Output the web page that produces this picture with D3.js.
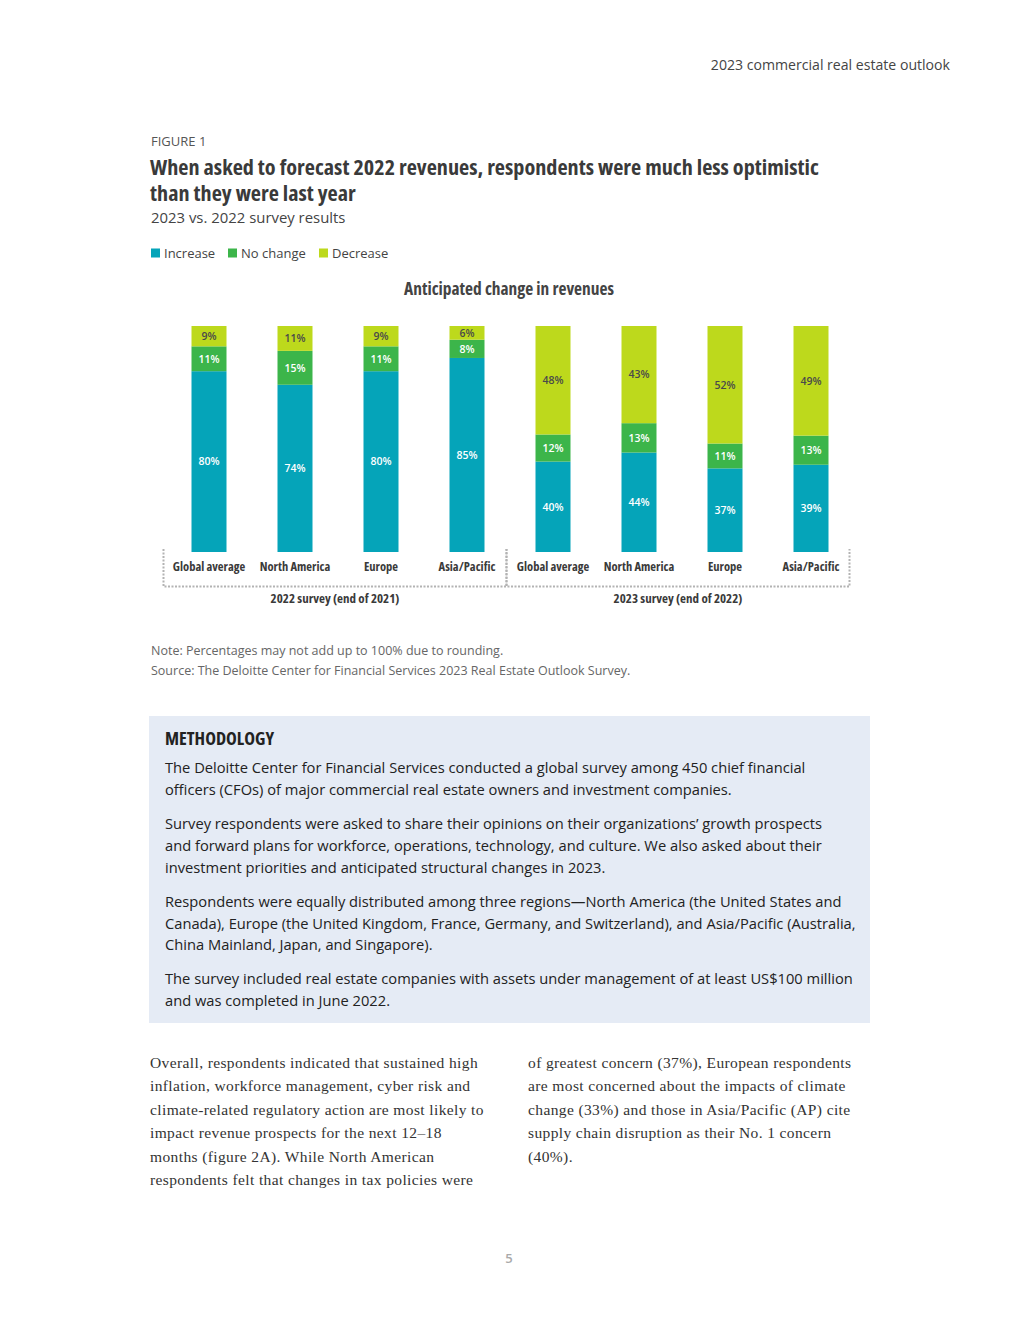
<!DOCTYPE html>
<html>
<head>
<meta charset="utf-8">
<script src="https://cdn.jsdelivr.net/npm/d3@7"></script>
<style>
  body { margin: 0; background: #fff; }
  svg { display: block; }
</style>
</head>
<body>
<svg id="page"></svg>
<script>
// chart data
const groups = ["2022 survey (end of 2021)", "2023 survey (end of 2022)"];
const regions = ["Global average", "North America", "Europe", "Asia/Pacific"];
const series = ["Increase", "No change", "Decrease"];
const increase = [80, 74, 80, 85, 40, 44, 37, 39];
const noChange = [11, 15, 11, 8, 12, 13, 11, 13];
const decrease = [9, 11, 9, 6, 48, 43, 52, 49];

const colors = ["#05a4b9", "#3cb54a", "#bdd91c"];
const labelColors = ["#ffffff", "#ffffff", "#4a4a4a"];

const condensed = "'Open Sans', 'Liberation Sans Narrow', sans-serif";

const width = 1020, height = 1320;
const svg = d3.select("#page").attr("width", width).attr("height", height);

// rows for the stack
const rows = increase.map((v, i) => ({
  key: groups[Math.floor(i / 4)] + "|" + regions[i % 4],
  group: groups[Math.floor(i / 4)],
  region: regions[i % 4],
  "Increase": v,
  "No change": noChange[i],
  "Decrease": decrease[i]
}));

const stacked = d3.stack().keys(series).offset(d3.stackOffsetExpand)(rows);

// Page header
svg.append("text")
  .attr("x", 950).attr("y", 70)
  .attr("text-anchor", "end")
  .style("font-family", "'Open Sans', sans-serif")
  .style("font-size", "14.1px")
  .style("fill", "#444")
  .text("2023 commercial real estate outlook");

svg.append("text")
  .attr("x", 151).attr("y", 146)
  .style("font-family", "'Open Sans', sans-serif")
  .style("font-size", "13px")
  .style("fill", "#555")
  .text("FIGURE 1");

const titleLines = [
  "When asked to forecast 2022 revenues, respondents were much less optimistic",
  "than they were last year"
];
svg.selectAll(".title")
  .data(titleLines)
  .join("text")
  .attr("class", "title")
  .attr("x", 150)
  .attr("y", (d, i) => 175 + i * 26)
  .style("font-family", condensed)
  .style("font-stretch", "75%")
  .style("font-weight", "700")
  .style("font-size", "22.2px")
  .style("fill", "#3a3a3a")
  .text(d => d);

svg.append("text")
  .attr("x", 151).attr("y", 223)
  .style("font-family", "'Open Sans', sans-serif")
  .style("font-size", "14.9px")
  .style("fill", "#444")
  .text("2023 vs. 2022 survey results");

// Legend
const legendX = [151, 228, 319];
const legend = svg.selectAll(".legend")
  .data(series)
  .join("g")
  .attr("class", "legend")
  .attr("transform", (d, i) => `translate(${legendX[i]}, 248.5)`);
legend.append("rect")
  .attr("width", 9).attr("height", 9)
  .attr("fill", (d, i) => colors[i]);
legend.append("text")
  .attr("x", 13).attr("y", 9)
  .style("font-family", "'Open Sans', sans-serif")
  .style("font-size", "13px")
  .style("fill", "#444")
  .text(d => d);

// Chart title
svg.append("text")
  .attr("x", 509).attr("y", 295)
  .attr("text-anchor", "middle")
  .style("font-family", condensed)
  .style("font-stretch", "75%")
  .style("font-weight", "700")
  .style("font-size", "17.4px")
  .style("fill", "#444")
  .text("Anticipated change in revenues");

// Scales
const x = d3.scaleBand()
  .domain(rows.map(d => d.key))
  .range([166, 854])
  .paddingInner(0.593)
  .paddingOuter(0.2965);

const y = d3.scaleLinear().domain([0, 1]).range([552, 326]);

const g = svg.append("g").attr("class", "bars");

const layers = g.selectAll(".layer")
  .data(stacked)
  .join("g")
  .attr("class", "layer")
  .attr("fill", (d, i) => colors[i]);

layers.selectAll("rect")
  .data(d => d)
  .join("rect")
  .attr("x", d => x(d.data.key))
  .attr("y", d => y(d[1]))
  .attr("width", x.bandwidth())
  .attr("height", d => y(d[0]) - y(d[1]));

// value labels
stacked.forEach((layer, li) => {
  g.selectAll(".lbl" + li)
    .data(layer)
    .join("text")
    .attr("class", "lbl" + li)
    .attr("x", d => x(d.data.key) + x.bandwidth() / 2)
    .attr("y", d => (y(d[0]) + y(d[1])) / 2 + 3.8)
    .attr("text-anchor", "middle")
    .style("font-family", "'Open Sans', sans-serif")
    .style("font-weight", "600")
    .style("font-size", "10.5px")
    .style("fill", labelColors[li])
    .text(d => d.data[layer.key] + "%");
});

// category labels
g.selectAll(".cat")
  .data(rows)
  .join("text")
  .attr("class", "cat")
  .attr("x", d => x(d.key) + x.bandwidth() / 2)
  .attr("y", 571)
  .attr("text-anchor", "middle")
  .style("font-family", condensed)
  .style("font-stretch", "75%")
  .style("font-weight", "700")
  .style("font-size", "12.5px")
  .style("fill", "#3a3a3a")
  .text(d => d.region);

// group brackets
const step = x.step();
const groupBounds = groups.map((grp, gi) => {
  const keys = rows.filter(r => r.group === grp).map(r => r.key);
  const x0 = gi === 0 ? x(keys[0]) - 28 : x(keys[0]) - 29;
  const x1 = gi === 0 ? x(keys[0]) - 28 + 4 * step - 1 : x(keys[keys.length - 1]) + x.bandwidth() + 21;
  return { grp, x0, x1 };
});

const bracket = svg.append("g")
  .attr("fill", "none")
  .attr("stroke", "#b3b3b3")
  .attr("stroke-width", 2)
  .attr("stroke-dasharray", "2,1.5");

groupBounds.forEach(b => {
  bracket.append("path")
    .attr("d", `M${b.x0},549 V586.5 H${b.x1} V549`);
});

svg.selectAll(".grp")
  .data(groupBounds)
  .join("text")
  .attr("class", "grp")
  .attr("x", d => (d.x0 + d.x1) / 2)
  .attr("y", 603)
  .attr("text-anchor", "middle")
  .style("font-family", condensed)
  .style("font-stretch", "75%")
  .style("font-weight", "700")
  .style("font-size", "13px")
  .style("fill", "#3a3a3a")
  .text(d => d.grp);

// Notes
const notes = [
  "Note: Percentages may not add up to 100% due to rounding.",
  "Source: The Deloitte Center for Financial Services 2023 Real Estate Outlook Survey."
];
svg.selectAll(".note")
  .data(notes)
  .join("text")
  .attr("class", "note")
  .attr("x", 151)
  .attr("y", (d, i) => 655 + i * 20)
  .style("font-family", "'Open Sans', sans-serif")
  .style("font-size", "12.5px")
  .style("fill", "#666")
  .text(d => d);

// Methodology box
svg.append("rect")
  .attr("x", 149).attr("y", 716)
  .attr("width", 721).attr("height", 307)
  .attr("fill", "#e5ebf5");

svg.append("text")
  .attr("x", 165).attr("y", 745)
  .style("font-family", condensed)
  .style("font-stretch", "75%")
  .style("font-weight", "700")
  .style("font-size", "18.2px")
  .style("fill", "#222")
  .text("METHODOLOGY");

const methodLines = [
  ["The Deloitte Center for Financial Services conducted a global survey among 450 chief financial", 773],
  ["officers (CFOs) of major commercial real estate owners and investment companies.", 795],
  ["Survey respondents were asked to share their opinions on their organizations’ growth prospects", 829],
  ["and forward plans for workforce, operations, technology, and culture. We also asked about their", 851],
  ["investment priorities and anticipated structural changes in 2023.", 873],
  ["Respondents were equally distributed among three regions—North America (the United States and", 907],
  ["Canada), Europe (the United Kingdom, France, Germany, and Switzerland), and Asia/Pacific (Australia,", 929],
  ["China Mainland, Japan, and Singapore).", 950],
  ["The survey included real estate companies with assets under management of at least US$100 million", 984],
  ["and was completed in June 2022.", 1006]
];
svg.append("g")
  .selectAll(".meth")
  .data(methodLines)
  .join("text")
  .attr("class", "meth")
  .attr("x", 165)
  .attr("y", d => d[1])
  .style("font-family", "'Open Sans', sans-serif")
  .style("font-size", "14.7px")
  .style("fill", "#222")
  .text(d => d[0]);

// Body text
const leftCol = [
  "Overall, respondents indicated that sustained high",
  "inflation, workforce management, cyber risk and",
  "climate-related regulatory action are most likely to",
  "impact revenue prospects for the next 12–18",
  "months (figure 2A). While North American",
  "respondents felt that changes in tax policies were"
];
const rightCol = [
  "of greatest concern (37%), European respondents",
  "are most concerned about the impacts of climate",
  "change (33%) and those in Asia/Pacific (AP) cite",
  "supply chain disruption as their No. 1 concern",
  "(40%)."
];
[[leftCol, 150], [rightCol, 528]].forEach(([lines, cx]) => {
  svg.append("g").selectAll("text")
    .data(lines)
    .join("text")
    .attr("x", cx)
    .attr("y", (d, i) => 1068 + i * 23.4)
    .style("font-family", "'Liberation Serif', serif")
    .style("font-size", "15.5px")
    .style("letter-spacing", "0.38px")
    .style("fill", "#333")
    .text(d => d);
});

svg.append("text")
  .attr("x", 509).attr("y", 1263)
  .attr("text-anchor", "middle")
  .style("font-family", "'Open Sans', sans-serif")
  .style("font-weight", "600")
  .style("font-size", "13px")
  .style("fill", "#aaa")
  .text("5");
</script>
</body>
</html>
